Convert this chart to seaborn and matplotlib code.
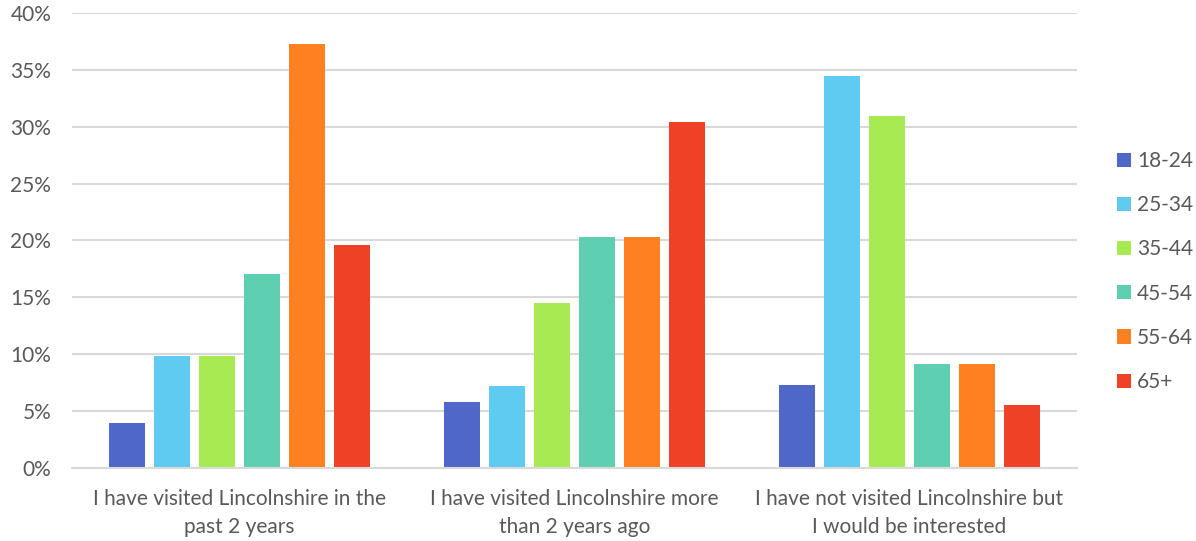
import matplotlib
matplotlib.use("Agg")
import matplotlib.pyplot as plt
from matplotlib.ticker import PercentFormatter
import seaborn as sns
import pandas as pd

categories = [
    "I have visited Lincolnshire in the\npast 2 years",
    "I have visited Lincolnshire more\nthan 2 years ago",
    "I have not visited Lincolnshire but\nI would be interested",
]
age_groups = ["18-24", "25-34", "35-44", "45-54", "55-64", "65+"]
values = {
    "18-24": [3.9, 5.8, 7.3],
    "25-34": [9.8, 7.2, 34.5],
    "35-44": [9.8, 14.5, 30.9],
    "45-54": [17.0, 20.3, 9.1],
    "55-64": [37.3, 20.3, 9.1],
    "65+":   [19.6, 30.4, 5.5],
}
colors = ["#4F67C8", "#5FCBF1", "#A8EA52", "#5FCFB2", "#FF8021", "#EF4125"]

rows = []
for age in age_groups:
    for cat, v in zip(categories, values[age]):
        rows.append({"category": cat, "age": age, "pct": v})
df = pd.DataFrame(rows)

sns.set_theme(style="white")
plt.rcParams["font.family"] = ["Lato", "DejaVu Sans"]

fig = plt.figure(figsize=(11.96, 5.41), dpi=100)
ax = fig.add_axes([0.0602, 0.1355, 0.8403, 0.8405])

sns.barplot(data=df, x="category", y="pct", hue="age", order=categories,
            hue_order=age_groups, palette=colors, width=0.806, gap=0.22,
            saturation=1, edgecolor="none", ax=ax, legend=True)

ax.set_xlim(-0.5, 2.5)
ax.set_ylim(0, 40)
ax.set_yticks(range(0, 41, 5))
ax.yaxis.set_major_formatter(PercentFormatter(decimals=0))
ax.yaxis.grid(True, color="#D9D9D9", linewidth=1.5)
ax.set_axisbelow(True)
for s in ["top", "right", "left"]:
    ax.spines[s].set_visible(False)
ax.spines["bottom"].set_color("#D9D9D9")
ax.spines["bottom"].set_linewidth(1.5)
ax.set_xlabel("")
ax.set_ylabel("")
ax.tick_params(axis="y", length=0, pad=15, labelsize=15, labelcolor="#595959")
ax.tick_params(axis="x", length=0, pad=15, labelsize=15, labelcolor="#595959")
for t in ax.get_xticklabels():
    t.set_linespacing(1.55)

handles, labels = ax.get_legend_handles_labels()
ax.get_legend().remove()
leg = fig.legend(handles, labels, loc="center left", bbox_to_anchor=(0.934, 0.498),
                 frameon=False, fontsize=15, handlelength=0.67, handleheight=0.67,
                 labelspacing=1.16, handletextpad=0.3, borderaxespad=0, borderpad=0)
for t in leg.get_texts():
    t.set_color("#595959")

fig.savefig("out.png", dpi=100)
